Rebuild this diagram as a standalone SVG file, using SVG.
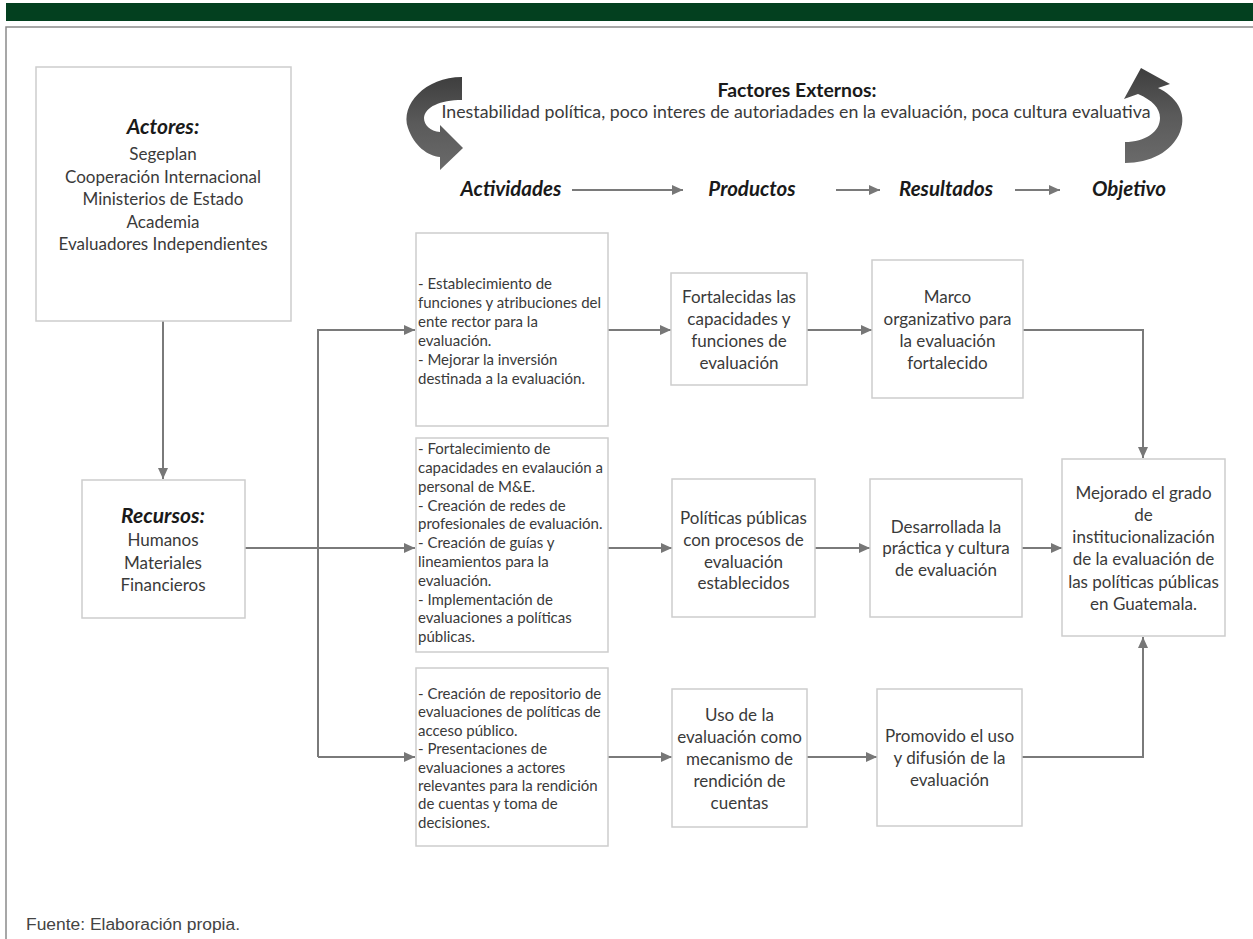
<svg xmlns="http://www.w3.org/2000/svg" width="1253" height="939" viewBox="0 0 1253 939">
<defs>
<linearGradient id="g1" x1="0" y1="0" x2="0" y2="1"><stop offset="0" stop-color="#3e3e3e"/><stop offset="0.5" stop-color="#5a5a5a"/><stop offset="1" stop-color="#6a6a6a"/></linearGradient>
<marker id="ah" markerUnits="userSpaceOnUse" markerWidth="12" markerHeight="10" refX="11" refY="5" orient="auto"><path d="M0,0 L11,5 L0,10 Z" fill="#777"/></marker>
</defs>
<style>
.box{fill:#fff;stroke:#cdcdcd;stroke-width:1.5}
.t{font-family:Lato,"Liberation Sans",sans-serif;fill:#3a3a3a}
.c{text-anchor:middle;font-size:17px}
.a{font-size:15px}
.h{font-family:Lato,"Liberation Sans",sans-serif;font-weight:bold;font-style:italic;fill:#1a1a1a}
.ln{fill:none;stroke:#7a7a7a;stroke-width:2}
</style>
<rect x="6" y="3" width="1247" height="18" fill="#03401f"/>
<path d="M6 939 V27 H1253" fill="none" stroke="#8a8a8a" stroke-width="1.5"/>

<g id="factores">
<path d="M462 77 C425 77 400 105 408 128 C414 146 428 156 440 157 L440 170 L463 148 L440 125 L440 132 C430 131 424 125 424 118 C425 107 440 100 462 100 Z" fill="url(#g1)"/>
<path d="M1125 163 C1150 163 1172 152 1180 132 C1188 112 1175 96 1158 88 L1170 84 L1141 68 L1124 99 L1138 94 C1152 100 1160 108 1160 118 C1160 132 1145 142 1125 142 Z" fill="url(#g1)"/>
<text x="797" y="97" text-anchor="middle" class="t" style="font-weight:bold;fill:#1a1a1a" font-size="18" textLength="159" lengthAdjust="spacingAndGlyphs">Factores Externos:</text>
<text x="796" y="118" text-anchor="middle" class="t" font-size="17.5" textLength="709" lengthAdjust="spacingAndGlyphs">Inestabilidad política, poco interes de autoriadades en la evaluación, poca cultura evaluativa</text>
</g>

<g id="headers">
<text x="511" y="196" text-anchor="middle" class="h" font-size="20.5">Actividades</text>
<text x="752" y="196" text-anchor="middle" class="h" font-size="20.5">Productos</text>
<text x="946" y="196" text-anchor="middle" class="h" font-size="20.5">Resultados</text>
<text x="1129" y="196" text-anchor="middle" class="h" font-size="20.5">Objetivo</text>
</g>

<g id="connectors">
<line class="ln" x1="572" y1="190" x2="683" y2="190" stroke-width="1.5" marker-end="url(#ah)"/>
<line class="ln" x1="836" y1="190" x2="880" y2="190" stroke-width="1.5" marker-end="url(#ah)"/>
<line class="ln" x1="1015" y1="190" x2="1060" y2="190" stroke-width="1.5" marker-end="url(#ah)"/>
<line class="ln" x1="163" y1="321" x2="163" y2="479" marker-end="url(#ah)"/>
<line class="ln" x1="245" y1="548" x2="415" y2="548" marker-end="url(#ah)"/>
<path class="ln" d="M318 757 V330 H415" marker-end="url(#ah)"/>
<line class="ln" x1="318" y1="757" x2="415" y2="757" marker-end="url(#ah)"/>
<line class="ln" x1="608" y1="330" x2="671" y2="330" marker-end="url(#ah)"/>
<line class="ln" x1="807" y1="330" x2="872" y2="330" marker-end="url(#ah)"/>
<path class="ln" d="M1023 330 H1143 V458" marker-end="url(#ah)"/>
<line class="ln" x1="608" y1="548" x2="672" y2="548" marker-end="url(#ah)"/>
<line class="ln" x1="815" y1="548" x2="870" y2="548" marker-end="url(#ah)"/>
<line class="ln" x1="1022" y1="548" x2="1062" y2="548" marker-end="url(#ah)"/>
<line class="ln" x1="608" y1="757" x2="672" y2="757" marker-end="url(#ah)"/>
<line class="ln" x1="807" y1="757" x2="877" y2="757" marker-end="url(#ah)"/>
<path class="ln" d="M1022 757 H1143 V637" marker-end="url(#ah)"/>
</g>

<g id="actores">
<rect class="box" x="36" y="67" width="255" height="254"/>
<text x="163" y="134" text-anchor="middle" class="h" font-size="21">Actores:</text>
<text class="t c"><tspan x="163" y="160">Segeplan</tspan><tspan x="163" y="183">Cooperación Internacional</tspan><tspan x="163" y="205">Ministerios de Estado</tspan><tspan x="163" y="228">Academia</tspan><tspan x="163" y="250">Evaluadores Independientes</tspan></text>
</g>

<g id="recursos">
<rect class="box" x="82" y="480" width="163" height="138"/>
<text x="163" y="523" text-anchor="middle" class="h" font-size="21">Recursos:</text>
<text class="t c"><tspan x="163" y="546">Humanos</tspan><tspan x="163" y="569">Materiales</tspan><tspan x="163" y="591">Financieros</tspan></text>
</g>

<g id="act1">
<rect class="box" x="416" y="233" width="192" height="193"/>
<text class="t a"><tspan x="418" y="289">- Establecimiento de</tspan><tspan x="418" y="308">funciones y atribuciones del</tspan><tspan x="418" y="327">ente rector para la</tspan><tspan x="418" y="346">evaluación.</tspan><tspan x="418" y="365">- Mejorar la inversión</tspan><tspan x="418" y="384">destinada a la evaluación.</tspan></text>
</g>

<g id="act2">
<rect class="box" x="416" y="438" width="192" height="214"/>
<text class="t a"><tspan x="418" y="454">- Fortalecimiento de</tspan><tspan x="418" y="473">capacidades en evalaución a</tspan><tspan x="418" y="492">personal de M&amp;E.</tspan><tspan x="418" y="511">- Creación de redes de</tspan><tspan x="418" y="529">profesionales de evaluación.</tspan><tspan x="418" y="548">- Creación de guías y</tspan><tspan x="418" y="567">lineamientos para la</tspan><tspan x="418" y="586">evaluación.</tspan><tspan x="418" y="605">- Implementación de</tspan><tspan x="418" y="623">evaluaciones a políticas</tspan><tspan x="418" y="642">públicas.</tspan></text>
</g>

<g id="act3">
<rect class="box" x="416" y="668" width="192" height="178"/>
<text class="t a"><tspan x="418" y="699">- Creación de repositorio de</tspan><tspan x="418" y="717">evaluaciones de políticas de</tspan><tspan x="418" y="736">acceso público.</tspan><tspan x="418" y="754">- Presentaciones de</tspan><tspan x="418" y="773">evaluaciones a actores</tspan><tspan x="418" y="791">relevantes para la rendición</tspan><tspan x="418" y="809">de cuentas y toma de</tspan><tspan x="418" y="828">decisiones.</tspan></text>
</g>

<g id="prod1">
<rect class="box" x="671" y="273" width="136" height="112"/>
<text class="t c"><tspan x="739" y="303">Fortalecidas las</tspan><tspan x="739" y="325">capacidades y</tspan><tspan x="739" y="347">funciones de</tspan><tspan x="739" y="369">evaluación</tspan></text>
</g>
<g id="prod2">
<rect class="box" x="672" y="479" width="143" height="138"/>
<text class="t c"><tspan x="743.5" y="524">Políticas públicas</tspan><tspan x="743.5" y="546">con procesos de</tspan><tspan x="743.5" y="568">evaluación</tspan><tspan x="743.5" y="589">establecidos</tspan></text>
</g>
<g id="prod3">
<rect class="box" x="672" y="689" width="135" height="138"/>
<text class="t c"><tspan x="739.5" y="721">Uso de la</tspan><tspan x="739.5" y="743">evaluación como</tspan><tspan x="739.5" y="765">mecanismo de</tspan><tspan x="739.5" y="787">rendición de</tspan><tspan x="739.5" y="809">cuentas</tspan></text>
</g>

<g id="res1">
<rect class="box" x="872" y="260" width="151" height="138"/>
<text class="t c"><tspan x="947.5" y="303">Marco</tspan><tspan x="947.5" y="325">organizativo para</tspan><tspan x="947.5" y="347">la evaluación</tspan><tspan x="947.5" y="369">fortalecido</tspan></text>
</g>
<g id="res2">
<rect class="box" x="870" y="479" width="152" height="138"/>
<text class="t c"><tspan x="946" y="533">Desarrollada la</tspan><tspan x="946" y="554">práctica y cultura</tspan><tspan x="946" y="576">de evaluación</tspan></text>
</g>
<g id="res3">
<rect class="box" x="877" y="689" width="145" height="137"/>
<text class="t c"><tspan x="949.5" y="742">Promovido el uso</tspan><tspan x="949.5" y="764">y difusión de la</tspan><tspan x="949.5" y="786">evaluación</tspan></text>
</g>

<g id="objetivo">
<rect class="box" x="1062" y="459" width="163" height="177"/>
<text class="t c"><tspan x="1143.5" y="499">Mejorado el grado</tspan><tspan x="1143.5" y="521">de</tspan><tspan x="1143.5" y="543">institucionalización</tspan><tspan x="1143.5" y="565">de la evaluación de</tspan><tspan x="1143.5" y="588">las políticas públicas</tspan><tspan x="1143.5" y="610">en Guatemala.</tspan></text>
</g>

<text x="26" y="930" font-family="'Liberation Sans',sans-serif" font-size="16" fill="#444" textLength="214" lengthAdjust="spacingAndGlyphs">Fuente: Elaboración propia.</text>
</svg>
